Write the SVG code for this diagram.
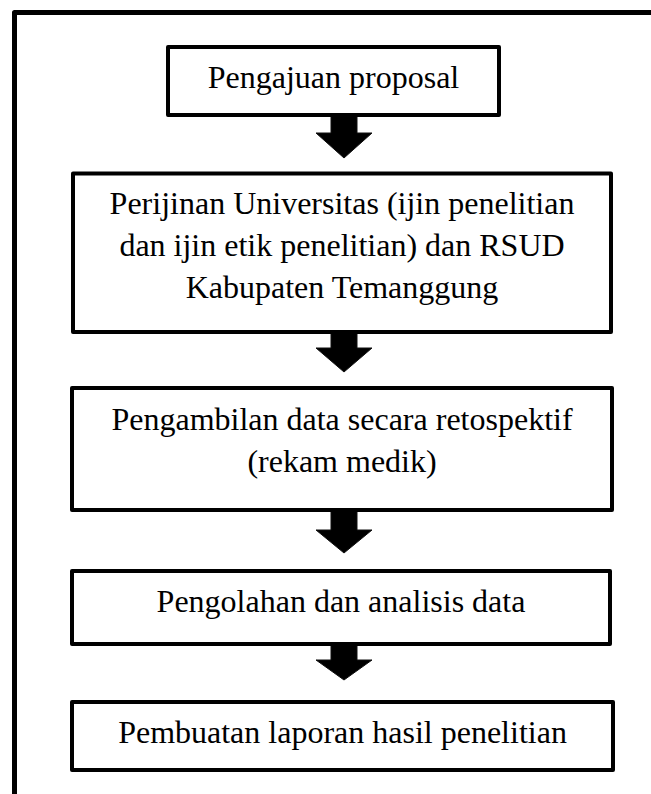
<svg xmlns="http://www.w3.org/2000/svg" width="651" height="794" viewBox="0 0 651 794">
<style>
.box{fill:#fff;stroke:#000;stroke-width:4;stroke-linejoin:round}
.t{font-family:"Liberation Serif","Times New Roman",serif;font-size:32px;fill:#000;text-anchor:middle}
.arr{fill:#000;stroke:#111;stroke-width:1;stroke-linejoin:miter}
</style>
<rect width="651" height="794" fill="#fff"/>
<path d="M14.5,794 V12.5 H651" fill="none" stroke="#000" stroke-width="5" stroke-linejoin="round"/>
<g id="connectors">
<polygon class="arr" points="331,115 357,115 357,133 372,133 344,158 316,133 331,133"/>
<polygon class="arr" points="331,332 357,332 357,348 372,348 344,372 316,348 331,348"/>
<polygon class="arr" points="331,510 357,510 357,530 372,530 344,553 316,530 331,530"/>
<polygon class="arr" points="331,644 357,644 357,660 372,660 344,680 316,660 331,660"/>
</g>
<g id="n1">
<rect class="box" x="168" y="47" width="331" height="68"/>
<text class="t" x="333.5" y="88">Pengajuan proposal</text>
</g>
<g id="n2">
<rect class="box" x="73" y="173.5" width="538" height="158.5"/>
<text class="t" x="342" y="214">Perijinan Universitas (ijin penelitian</text>
<text class="t" x="342" y="256">dan ijin etik penelitian) dan RSUD</text>
<text class="t" x="342" y="298">Kabupaten Temanggung</text>
</g>
<g id="n3">
<rect class="box" x="72" y="388" width="540" height="122"/>
<text class="t" x="342" y="430">Pengambilan data secara retospektif</text>
<text class="t" x="342" y="472">(rekam medik)</text>
</g>
<g id="n4">
<rect class="box" x="72" y="571" width="538" height="73"/>
<text class="t" x="341" y="612">Pengolahan dan analisis data</text>
</g>
<g id="n5">
<rect class="box" x="72" y="702" width="541" height="68"/>
<text class="t" x="342.5" y="743">Pembuatan laporan hasil penelitian</text>
</g>
</svg>
